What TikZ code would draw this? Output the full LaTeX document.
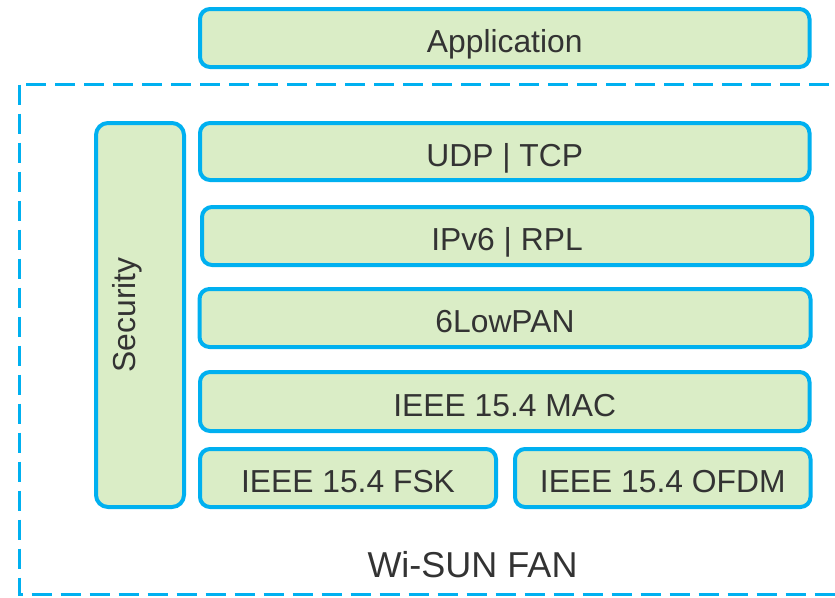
\documentclass[tikz,border=0pt]{standalone}
\usepackage{fontspec}
\setmainfont{Liberation Sans}
\definecolor{layerfill}{RGB}{218,237,198}
\definecolor{layerline}{RGB}{0,176,240}
\definecolor{labeltext}{RGB}{51,51,51}
\begin{document}
\begin{tikzpicture}[x=1pt,y=-1pt,
  layer/.style={draw=layerline, fill=layerfill, line width=4pt,
    rounded corners=10pt, inner sep=0pt, outer sep=0pt,
    text=labeltext, font=\fontsize{31.8}{36}\selectfont,
    text height=29.8pt, text depth=0pt},
  fanframe/.style={draw=layerline, line width=3pt,
    dash pattern=on 20pt off 9pt}
]
\useasboundingbox (0,0) rectangle (835,597);
\clip (0,0) rectangle (835,597);

% outer dashed frame of the FAN stack
\draw[fanframe] (19.5,84.5) rectangle (842,594.5);

% protocol layers
\node[layer, minimum width=609.5pt, minimum height=58pt] (app)  at (504.75,38) {Application};
\node[layer, minimum width=609.5pt, minimum height=57pt] (udp)  at (504.75,151.5) {UDP | TCP};
\node[layer, minimum width=610pt,   minimum height=58pt] (ipv6) at (507,236) {IPv6 | RPL};
\node[layer, minimum width=611pt,   minimum height=58pt] (lowpan) at (505,318) {6LowPAN};
\node[layer, minimum width=609.5pt, minimum height=59pt] (mac)  at (504.75,401.5) {IEEE 15.4 MAC};
\node[layer, minimum width=296pt,   minimum height=58pt] (fsk)  at (348,478) {IEEE 15.4 FSK};
\node[layer, minimum width=295.5pt, minimum height=58pt] (ofdm) at (662.75,478) {IEEE 15.4 OFDM};

% security column spanning the stack
\node[layer, minimum width=88pt, minimum height=384pt, rounded corners=12pt] (sec) at (140,315) {};
\node[text=labeltext, font=\fontsize{31.8}{36}\selectfont, rotate=90] (seclabel) at (127,315) {Security};

% frame caption
\node[text=labeltext, font=\fontsize{36}{42}\selectfont, anchor=base] (fan) at (472.5,577) {Wi-SUN FAN};
\end{tikzpicture}
\end{document}
